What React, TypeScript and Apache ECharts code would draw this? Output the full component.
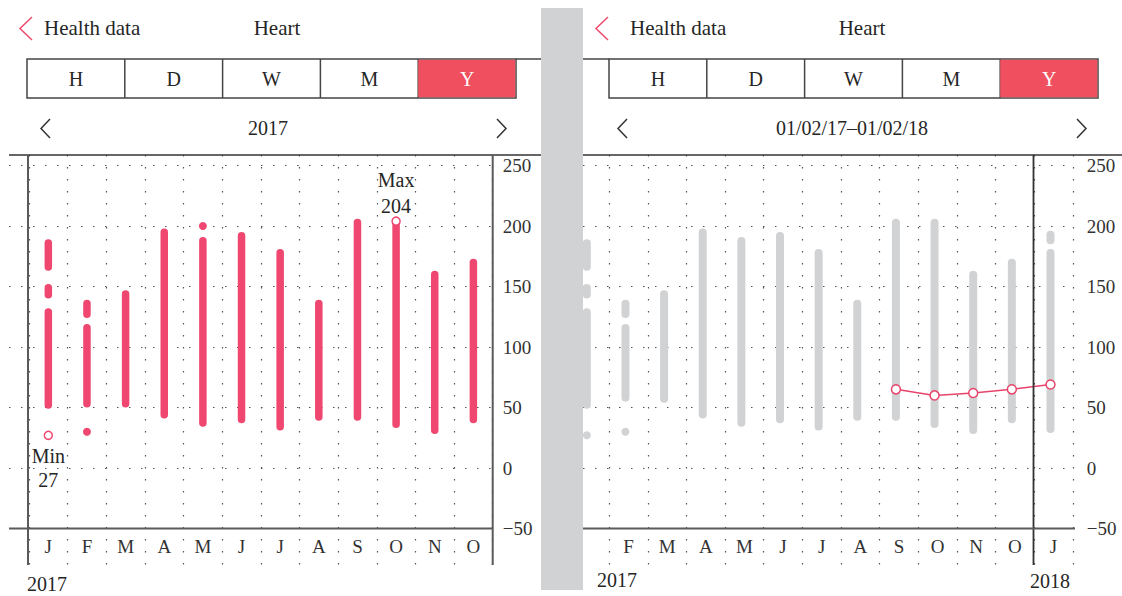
import React, { useEffect, useRef } from 'react';
import * as echarts from 'echarts';

const FONT = 'Liberation Serif';
const RED = '#ef4770';
const TAB_RED = '#f04f60';
const GREY = '#d1d2d4';
const TXT = '#262626';
const DOT = '#555';

// ---- data ----
const months2017 = ['J', 'F', 'M', 'A', 'M', 'J', 'J', 'A', 'S', 'O', 'N', 'O'];
const monthsRolling = ['J', 'F', 'M', 'A', 'M', 'J', 'J', 'A', 'S', 'O', 'N', 'O', 'J'];
const tabs = ['H', 'D', 'W', 'M', 'Y'];

// [monthIndex, low, high]
const redSegments = [
  [0, 163, 189], [0, 140, 152], [0, 49, 132],
  [1, 124, 139], [1, 50, 119],
  [2, 50, 147],
  [3, 41, 198],
  [4, 34, 191],
  [5, 37, 195],
  [6, 31, 181],
  [7, 39, 139],
  [8, 39, 206],
  [9, 33, 204],
  [10, 28, 163],
  [11, 37, 173],
];
const redDots = [[1, 30], [4, 200]];
const minPoint = [[0, 27]];
const maxPoint = [[9, 204]];

const greySegments = [
  [0, 163, 189], [0, 140, 152], [0, 49, 132],
  [1, 124, 139], [1, 55, 119],
  [2, 54, 147],
  [3, 41, 198],
  [4, 34, 191],
  [5, 37, 195],
  [6, 31, 181],
  [7, 39, 139],
  [8, 39, 206],
  [9, 33, 206],
  [10, 28, 163],
  [11, 37, 173],
  [12, 185, 196], [12, 29, 181],
];
const greyDots = [[0, 27], [1, 30]];
const avgLine = [null, null, null, null, null, null, null, null, 65, 60, 62, 65, 69];

const Y_MIN = -50;
const Y_MAX = 250;
const Y_STEP = 50;

// ---- layout ----
const PLOT_TOP = 165.5;
const PLOT_H = 363;

const dotted = { type: [1.5, 10.5], color: DOT, width: 1.2 };

const rangeRenderer = (color: string, w: number) => (params: any, api: any) => {
  const i = api.value(0);
  const lo = api.coord([i, api.value(1)]);
  const hi = api.coord([i, api.value(2)]);
  return {
    type: 'rect',
    shape: { x: hi[0] - w / 2, y: hi[1], width: w, height: lo[1] - hi[1], r: w / 2 },
    style: { fill: color },
  };
};

const yLabelFmt = (v: number) => String(v).replace('-', '\u2212');

function text(x: number, y: number, t: string, opts: any = {}) {
  return {
    type: 'text',
    x,
    y,
    z: 110,
    style: {
      text: t,
      fontSize: opts.size || 21,
      fontFamily: FONT,
      fill: opts.fill || TXT,
      align: opts.align || 'left',
      textAlign: opts.align || 'left',
      verticalAlign: 'middle',
      textVerticalAlign: 'middle',
    },
  };
}
function line(x1: number, y1: number, x2: number, y2: number, w = 1.6, c = '#555') {
  return { type: 'line', z: 105, shape: { x1, y1, x2, y2 }, style: { stroke: c, lineWidth: w } };
}
function chevron(pts: number[][], c: string) {
  return { type: 'polyline', z: 110, shape: { points: pts }, style: { stroke: c, lineWidth: 1.5, fill: 'transparent' } };
}

function header(ox: number, cx: number, subtitle: string, tabX: number) {
  const els: any[] = [];
  els.push(chevron([[ox + 12, 17], [ox, 28.5], [ox + 12, 40]], '#ee4a6e'));
  const tabW = 489 / 5;
  els.push({ type: 'rect', z: 104, shape: { x: tabX, y: 59, width: 489, height: 39 }, style: { fill: '#fff', stroke: '#444', lineWidth: 1.5 } });
  for (let k = 1; k < 5; k++) {
    els.push(line(tabX + tabW * k, 59, tabX + tabW * k, 98, 1.5, '#444'));
  }
  els.push({ type: 'rect', z: 106, shape: { x: tabX + tabW * 4, y: 59.75, width: tabW - 0.75, height: 37.5 }, style: { fill: TAB_RED } });
  tabs.forEach((t, k) => {
    els.push(text(tabX + tabW * k + tabW / 2, 78.5, t, { align: 'center', size: 20, fill: k === 4 ? '#fff' : TXT }));
  });
  els.push(text(cx, 128, subtitle, { align: 'center', size: 20 }));
  return els;
}

const graphics: any[] = [
  // left header
  ...header(20, 268, '2017', 27),
  text(44, 28, 'Health data'),
  text(277, 28, 'Heart', { align: 'center' }),
  line(516, 59, 541, 59, 1.5, '#444'),
  chevron([[50, 119], [41, 128.5], [50, 138]], '#333'),
  chevron([[497, 119], [506, 128.5], [497, 138]], '#333'),
  // right header
  ...header(596, 852, '01/02/17\u201301/02/18', 609),
  text(630, 28, 'Health data'),
  text(862, 28, 'Heart', { align: 'center' }),
  line(583, 59, 609, 59, 1.5, '#444'),
  chevron([[627, 119], [618, 128.5], [627, 138]], '#333'),
  chevron([[1077, 119], [1086, 128.5], [1077, 138]], '#333'),
  // left frame
  line(9, 155, 541, 155, 1.5, '#333'),
  line(28, 155, 28, 565, 2, '#5a5a5a'),
  line(492.7, 155, 492.7, 565, 2, '#5a5a5a'),
  line(9, 528.5, 492.7, 528.5, 2, '#5a5a5a'),
  // right frame
  line(583, 155, 1122, 155, 1.5, '#333'),
  line(1033.5, 155, 1033.5, 565, 1.8, '#333'),
  line(583, 528.5, 1075, 528.5, 2, '#5a5a5a'),
  // year labels
  text(27, 584, '2017', { size: 20 }),
  text(597, 580, '2017', { size: 20 }),
  text(1030, 581, '2018', { size: 20 }),
  // divider strip
  { type: 'rect', z: 200, shape: { x: 541, y: 8, width: 42, height: 582 }, style: { fill: GREY } },
];

const valueY = (extra: any = {}) => ({
  type: 'value',
  min: Y_MIN,
  max: Y_MAX,
  interval: Y_STEP,
  axisLine: { show: false },
  axisTick: { show: false },
  splitLine: { show: false },
  axisLabel: { show: false },
  ...extra,
});

const hiddenValueX = { type: 'value', show: false };
const hiddenValueY = { type: 'value', show: false };

const catLabelAxis = (data: string[], extraLabel: any = {}) => ({
  type: 'category',
  data,
  boundaryGap: true,
  axisLine: { show: false },
  axisTick: { show: false },
  splitLine: { show: false },
  axisLabel: { margin: 8, fontSize: 19, color: '#333', fontFamily: FONT, interval: 0, ...extraLabel },
});

const option: any = {
  animation: false,
  backgroundColor: '#fff',
  textStyle: { fontFamily: FONT },
  grid: [
    { left: 9, top: PLOT_TOP, width: 483.7, height: PLOT_H, containLabel: false },
    { left: 29, top: 155, width: 463.7, height: 410, containLabel: false },
    { left: 29, top: PLOT_TOP, width: 463.7, height: PLOT_H, containLabel: false },
    { left: 583, top: PLOT_TOP, width: 492, height: PLOT_H, containLabel: false },
    { left: 570.5, top: 155, width: 502.3, height: 410, containLabel: false },
    { left: 567.5, top: PLOT_TOP, width: 502.3, height: PLOT_H, containLabel: false },
    { left: 570.5, top: PLOT_TOP, width: 502.3, height: PLOT_H, containLabel: false },
  ],
  xAxis: [
    { ...hiddenValueX, gridIndex: 0 },
    {
      type: 'category', gridIndex: 1, data: months2017, boundaryGap: true,
      axisLine: { show: false }, axisTick: { show: false }, axisLabel: { show: false },
      splitLine: { show: true, interval: 0, lineStyle: dotted },
    },
    { ...catLabelAxis(months2017), gridIndex: 2 },
    { ...hiddenValueX, gridIndex: 3 },
    {
      type: 'category', gridIndex: 4, data: monthsRolling, boundaryGap: true,
      axisLine: { show: false }, axisTick: { show: false }, axisLabel: { show: false },
      splitLine: { show: true, interval: 0, lineStyle: dotted },
    },
    { type: 'category', gridIndex: 5, data: monthsRolling, boundaryGap: true, show: false },
    { ...catLabelAxis(monthsRolling, { interval: (idx: number) => idx !== 0 }), gridIndex: 6 },
  ],
  yAxis: [
    valueY({ gridIndex: 0, splitLine: { show: true, lineStyle: dotted } }),
    { ...hiddenValueY, gridIndex: 1 },
    valueY({
      gridIndex: 2, position: 'right',
      axisLabel: { show: true, margin: 10, fontSize: 19, color: '#333', fontFamily: FONT, formatter: yLabelFmt },
    }),
    valueY({ gridIndex: 3, splitLine: { show: true, lineStyle: dotted } }),
    { ...hiddenValueY, gridIndex: 4 },
    valueY({ gridIndex: 5, show: false }),
    valueY({
      gridIndex: 6, position: 'right',
      axisLabel: { show: true, margin: 14, fontSize: 19, color: '#333', fontFamily: FONT, formatter: yLabelFmt },
    }),
  ],
  series: [
    {
      type: 'custom', name: '2017 range', xAxisIndex: 2, yAxisIndex: 2,
      renderItem: rangeRenderer(RED, 7.5), data: redSegments, encode: { x: 0, y: [1, 2] }, z: 3,
    },
    {
      type: 'scatter', xAxisIndex: 2, yAxisIndex: 2, data: redDots, symbolSize: 8,
      itemStyle: { color: RED, opacity: 1 }, z: 4,
    },
    {
      type: 'scatter', xAxisIndex: 2, yAxisIndex: 2, data: minPoint, symbolSize: 8,
      itemStyle: { color: '#fff', borderColor: RED, borderWidth: 1.5, opacity: 1 }, z: 5,
      label: {
        show: true, position: 'bottom', distance: 4, formatter: (p: any) => `Min\n${p.value[1]}`,
        fontSize: 20, lineHeight: 24, color: TXT, fontFamily: FONT, textBorderWidth: 0, opacity: 1,
      },
    },
    {
      type: 'scatter', xAxisIndex: 2, yAxisIndex: 2, data: maxPoint, symbolSize: 8,
      itemStyle: { color: '#fff', borderColor: RED, borderWidth: 1.5, opacity: 1 }, z: 5,
      label: {
        show: true, position: 'top', distance: -3, formatter: (p: any) => `Max\n${p.value[1]}`,
        fontSize: 20, lineHeight: 26, color: TXT, fontFamily: FONT, textBorderWidth: 0, opacity: 1,
      },
    },
    {
      type: 'custom', name: 'rolling range', xAxisIndex: 5, yAxisIndex: 5,
      renderItem: rangeRenderer(GREY, 8), data: greySegments, encode: { x: 0, y: [1, 2] }, z: 3,
    },
    {
      type: 'scatter', xAxisIndex: 5, yAxisIndex: 5, data: greyDots, symbolSize: 8,
      itemStyle: { color: GREY, opacity: 1 }, z: 4,
    },
    {
      type: 'line', xAxisIndex: 5, yAxisIndex: 5, data: avgLine, symbol: 'circle', symbolSize: 9,
      showAllSymbol: true, connectNulls: false,
      lineStyle: { color: '#e8436a', width: 1.5 },
      itemStyle: { color: '#fff', borderColor: '#e8436a', borderWidth: 1.5 }, z: 6,
    },
  ],
  graphic: { elements: graphics },
};

export default function App() {
  const ref = useRef<HTMLDivElement>(null);
  useEffect(() => {
    const chart = echarts.init(ref.current!, null, { renderer: 'svg' });
    chart.setOption(option);
    return () => chart.dispose();
  }, []);
  return (
    <div
      ref={ref}
      style={{ position: 'fixed', left: 0, top: 0, width: 1122, height: 596, background: '#fff' }}
    />
  );
}
